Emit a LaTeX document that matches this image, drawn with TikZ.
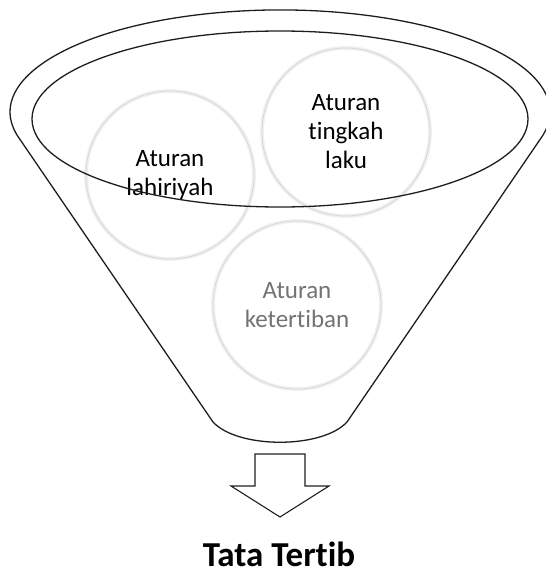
\documentclass[tikz,border=0pt]{standalone}
\usepackage{fontspec}
\setmainfont{Carlito}[Ligatures=NoCommon]
\usepackage{xcolor}
\usepackage{tikz}
\usetikzlibrary{positioning}
\definecolor{funnelline}{RGB}{30,30,30}
\definecolor{bubbleline}{RGB}{212,212,212}
\definecolor{bubbleglow}{RGB}{240,240,240}
\definecolor{fadedtext}{RGB}{115,115,115}
\tikzset{
    funnel/.style={
        draw=funnelline,
        line width=1.3pt,
        line join=round
    },
    bubble/.style={
        circle,
        minimum size=168pt,
        inner sep=0pt,
        draw=bubbleline,
        line width=0.7pt,
        preaction={draw=bubbleglow, line width=4pt},
        align=center,
        font=\fontsize{25}{29}\selectfont
    },
    fadedbubble/.style={bubble, text=fadedtext},
    blockarrow/.style={draw=funnelline, line width=1.1pt, line join=miter},
    titlenode/.style={font=\bfseries\fontsize{35}{40}\selectfont, anchor=base, inner sep=0pt}
}

\begin{document}
\begin{tikzpicture}[x=1pt, y=1pt]
    \useasboundingbox (0,0) rectangle (546,-576);

    % Rules poured into the funnel
    \node[bubble] (lahiriyah) at (170,-175) {Aturan\\lahiriyah};
    \node[bubble] (tingkah) at (346,-132) {Aturan\\tingkah\\laku};
    \node[fadedbubble] (ketertiban) at (297,-305) {Aturan\\ketertiban};

    % Funnel body and rim
    \draw[funnel] (19,-138) arc[start angle=194.8, end angle=-14.8, x radius=270, y radius=102]
        -- (347,-422) .. controls (322,-449) and (238,-449) .. (213,-422) -- cycle;
    \draw[funnel] (280,-119) ellipse[x radius=248, y radius=88];

    % Output arrow
    \draw[blockarrow] (255,-454) -- (305,-454) -- (305,-486) -- (329,-486)
        -- (280,-517) -- (231,-486) -- (255,-486) -- cycle;

    \node[titlenode] (tatatertib) at (279,-566) {Tata Tertib};
\end{tikzpicture}
\end{document}
